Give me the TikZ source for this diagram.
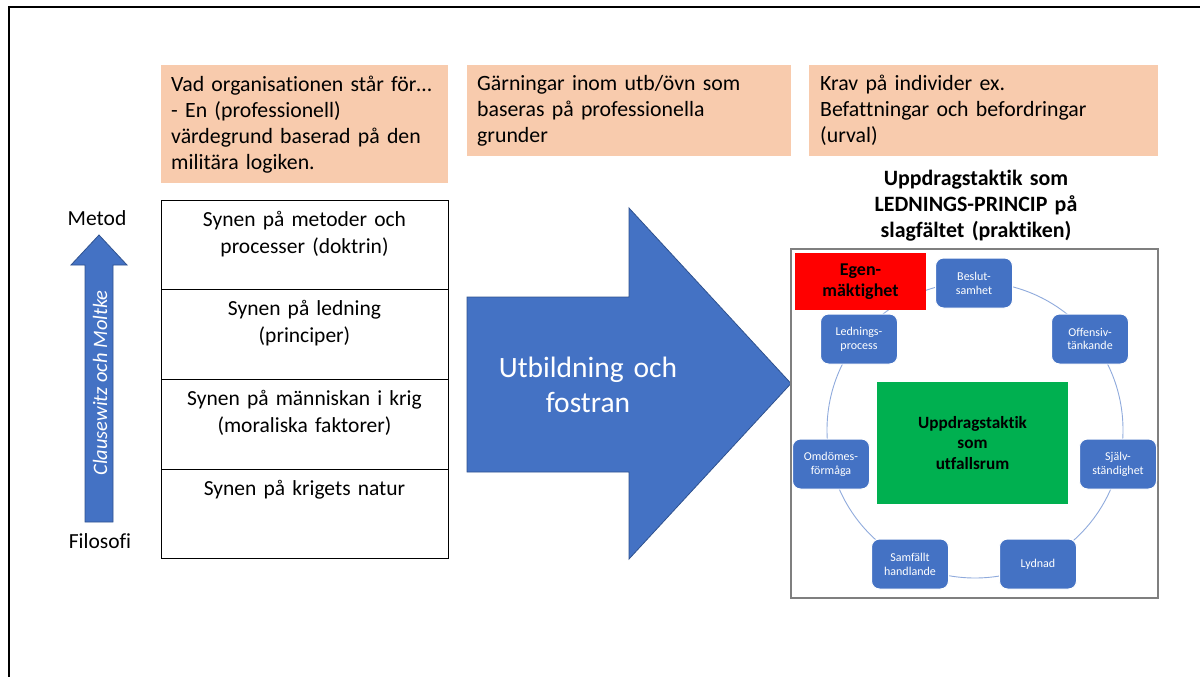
\documentclass[tikz,border=0pt]{standalone}
\usepackage{fontspec}
\setmainfont{Carlito}[Ligatures=NoCommon]
\definecolor{blueA}{HTML}{4472C4}
\definecolor{blueD}{HTML}{2F528F}
\definecolor{peach}{HTML}{F8CBAD}
\definecolor{greenA}{HTML}{00B050}
\definecolor{ringc}{HTML}{8FAADC}
\definecolor{boxgray}{HTML}{7F7F7F}
\begin{document}
\begin{tikzpicture}[x=1pt,y=-1pt,
  peachtext/.style={anchor=base west,inner sep=0pt,text width=#1,align=left,
    font=\fontsize{21.8}{25.8}\selectfont},
  stacktext/.style={anchor=base,inner sep=0pt,text width=284pt,align=center,
    font=\fontsize{21.5}{27}\selectfont},
  blueshape/.style={fill=blueA,draw=blueD,line width=0.8pt},
  sm/.style={draw=white,line width=1pt,fill=blueA,rounded corners=8pt,
    minimum width=77pt,minimum height=50pt,text=white,align=center,inner sep=0pt,
    font=\fontsize{12}{13.8}\selectfont},
  sidelabel/.style={inner sep=0pt,font=\fontsize{21.5}{24}\selectfont}
]
\useasboundingbox (0,0) rectangle (1200,677);
% frame
\draw[line width=2.5pt] (9,677) -- (9,7) -- (1200,7);

% orange boxes
\fill[peach] (161,65) rectangle (448,183);
\fill[peach] (467,65) rectangle (791,156);
\fill[peach] (809,65) rectangle (1158,156);
\node[peachtext=275pt] (o1) at (171,92) {Vad organisationen står för…\\- En (professionell)\\värdegrund baserad på den\\militära logiken.};
\node[peachtext=310pt] (o2) at (477,91) {Gärningar inom utb/övn som\\baseras på professionella\\grunder};
\node[peachtext=335pt] (o3) at (820,91) {Krav på individer ex.\\Befattningar och befordringar\\(urval)};

% stack
\draw[line width=0.8pt] (161,200) rectangle (448,558);
\draw[line width=0.8pt] (161,289.5) -- (448,289.5);
\draw[line width=0.8pt] (161,379) -- (448,379);
\draw[line width=0.8pt] (161,469) -- (448,469);
\node[stacktext] (s1) at (304.5,226) {Synen på metoder och\\processer (doktrin)};
\node[stacktext] (s2) at (304.5,315.5) {Synen på ledning\\(principer)};
\node[stacktext] (s3) at (304.5,405) {Synen på människan i krig\\(moraliska faktorer)};
\node[stacktext] (s4) at (304.5,495) {Synen på krigets natur};

% vertical arrow
\filldraw[blueshape] (85,522) -- (85,265) -- (71,265) -- (99,235) -- (127,265) -- (113,265) -- (113,522) -- cycle;
\node[rotate=90,text=white,inner sep=0pt,font=\itshape\fontsize{20.5}{24}\selectfont] (cm) at (100,383) {Clausewitz och Moltke};
\node[sidelabel] (metod) at (97,218) {Metod};
\node[sidelabel] (filosofi) at (100,541) {Filosofi};

% big arrow
\filldraw[blueshape] (467,297) -- (629,297) -- (629,208) -- (791,383.5) -- (629,559) -- (629,472) -- (467,472) -- cycle;
\node[anchor=base,inner sep=0pt,text width=220pt,align=center,text=white,
  font=\fontsize{29.5}{35}\selectfont] (bt) at (588,377) {Utbildning och\\fostran};

% title
\node[anchor=base,inner sep=0pt,text width=330pt,align=center,
  font=\bfseries\fontsize{21.9}{26}\selectfont] (title) at (976,185) {Uppdragstaktik som\\LEDNINGS-PRINCIP på\\slagfältet (praktiken)};

% right box
\draw[boxgray,line width=1.2pt] (791,249) rectangle (1158,598);
\draw[ringc,line width=0.9pt] (975,430) circle[radius=148pt];

\node[sm] (beslut) at (974,283) {Beslut-\\samhet};
\node[sm] (offensiv) at (1090,339) {Offensiv-\\tänkande};
\node[sm] (sjalv) at (1118,464) {Själv-\\ständighet};
\node[sm] (lydnad) at (1038,564) {Lydnad};
\node[sm] (samfallt) at (910,564) {Samfällt\\handlande};
\node[sm] (omdome) at (831,464) {Omdömes-\\förmåga};
\node[sm] (ledning) at (859,339) {Lednings-\\process};

\node[fill=red,minimum width=131pt,minimum height=57pt,inner sep=0pt,align=center,
  font=\bfseries\fontsize{18}{21}\selectfont] (egen) at (860.5,281.5) {Egen-\\mäktighet};
\node[fill=greenA,minimum width=191pt,minimum height=122pt,inner sep=0pt,align=center,
  font=\bfseries\fontsize{17.2}{20.7}\selectfont] (utfall) at (972.5,443) {\raisebox{3pt}{\parbox{180pt}{\centering Uppdragstaktik\\som\\utfallsrum}}};
\end{tikzpicture}
\end{document}
